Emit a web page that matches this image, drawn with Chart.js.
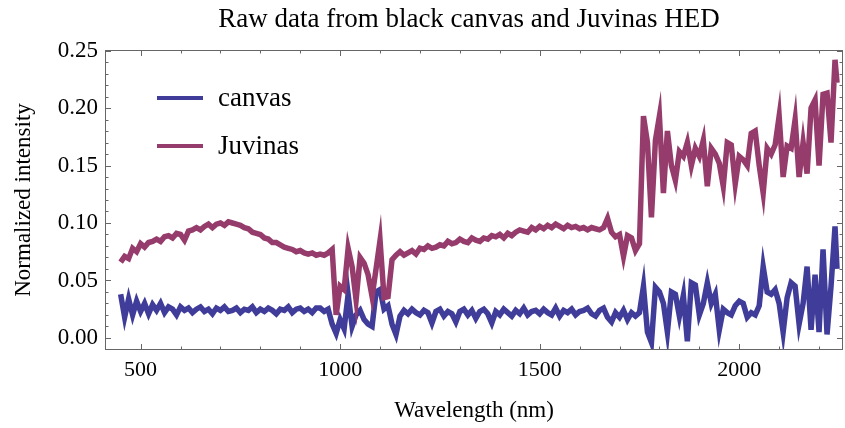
<!DOCTYPE html>
<html>
<head>
<meta charset="utf-8">
<script src="https://cdn.jsdelivr.net/npm/chart.js@4.4.1/dist/chart.umd.min.js"></script>
<style>
  html, body { margin: 0; padding: 0; background: #fff; }
</style>
</head>
<body>
<canvas id="chart" width="845" height="428"></canvas>
<script>
// lunghezze d'onda (nm)
const wavelengths = [
  450, 460, 470, 480, 490, 500, 510, 520, 530, 540,
  550, 560, 570, 580, 590, 600, 610, 620, 630, 640,
  650, 660, 670, 680, 690, 700, 710, 720, 730, 740,
  750, 760, 770, 780, 790, 800, 810, 820, 830, 840,
  850, 860, 870, 880, 890, 900, 910, 920, 930, 940,
  950, 960, 970, 980, 990, 1000, 1010, 1020, 1030, 1040,
  1050, 1060, 1070, 1080, 1090, 1100, 1110, 1120, 1130, 1140,
  1150, 1160, 1170, 1180, 1190, 1200, 1210, 1220, 1230, 1240,
  1250, 1260, 1270, 1280, 1290, 1300, 1310, 1320, 1330, 1340,
  1350, 1360, 1370, 1380, 1390, 1400, 1410, 1420, 1430, 1440,
  1450, 1460, 1470, 1480, 1490, 1500, 1510, 1520, 1530, 1540,
  1550, 1560, 1570, 1580, 1590, 1600, 1610, 1620, 1630, 1640,
  1650, 1660, 1670, 1680, 1690, 1700, 1710, 1720, 1730, 1740,
  1750, 1760, 1770, 1780, 1790, 1800, 1810, 1820, 1830, 1840,
  1850, 1860, 1870, 1880, 1890, 1900, 1910, 1920, 1930, 1940,
  1950, 1960, 1970, 1980, 1990, 2000, 2010, 2020, 2030, 2040,
  2050, 2060, 2070, 2080, 2090, 2100, 2110, 2120, 2130, 2140,
  2150, 2160, 2170, 2180, 2190, 2200, 2210, 2220, 2230, 2240,
  2245
];

// intensità normalizzata - tela nera
const canvasVals = [
  0.038, 0.018, 0.034, 0.020, 0.032, 0.023, 0.030, 0.021, 0.029, 0.024,
  0.030, 0.022, 0.027, 0.025, 0.020, 0.027, 0.024, 0.026, 0.022, 0.025,
  0.027, 0.023, 0.025, 0.021, 0.026, 0.024, 0.027, 0.023, 0.024, 0.026,
  0.022, 0.025, 0.024, 0.027, 0.022, 0.025, 0.023, 0.026, 0.024, 0.021,
  0.025, 0.024, 0.027, 0.022, 0.025, 0.026, 0.023, 0.025, 0.022, 0.026,
  0.026, 0.023, 0.025, 0.012, 0.004, 0.016, 0.008, 0.038, 0.010, 0.020,
  0.024, 0.016, 0.012, 0.010, 0.040, 0.042, 0.025, 0.028, 0.012, 0.003,
  0.019, 0.024, 0.021, 0.025, 0.022, 0.020, 0.024, 0.022, 0.013, 0.023,
  0.025, 0.019, 0.023, 0.021, 0.014, 0.023, 0.025, 0.020, 0.024, 0.017,
  0.023, 0.025, 0.021, 0.013, 0.023, 0.020, 0.025, 0.022, 0.019, 0.024,
  0.021, 0.026, 0.020, 0.023, 0.024, 0.021, 0.025, 0.022, 0.020, 0.026,
  0.019, 0.024, 0.022, 0.025, 0.020, 0.023, 0.024, 0.026, 0.021, 0.019,
  0.024, 0.026, 0.018, 0.014, 0.022, 0.018, 0.024, 0.016, 0.022, 0.019,
  0.022, 0.045, 0.005, -0.004, 0.044, 0.040, 0.030, 0.005, 0.040, 0.038,
  0.019, 0.037, -0.003, 0.048, 0.046, 0.020, 0.030, 0.048, 0.030, 0.038,
  0.007, 0.025, 0.022, 0.020, 0.028, 0.032, 0.030, 0.018, 0.022, 0.020,
  0.028, 0.062, 0.040, 0.038, 0.042, 0.030, 0.005, 0.035, 0.048, 0.045,
  0.012, 0.030, 0.062, 0.007, 0.055, 0.005, 0.077, 0.003, 0.045, 0.097,
  0.060
];

// intensità normalizzata - Juvinas
const juvinasVals = [
  0.066, 0.071, 0.069, 0.078, 0.075, 0.082, 0.079, 0.083, 0.084, 0.086,
  0.084, 0.088, 0.089, 0.087, 0.091, 0.090, 0.085, 0.093, 0.094, 0.096,
  0.094, 0.097, 0.099, 0.096, 0.099, 0.100, 0.098, 0.101, 0.100, 0.099,
  0.098, 0.096, 0.095, 0.092, 0.091, 0.090, 0.087, 0.086, 0.083, 0.083,
  0.081, 0.079, 0.078, 0.077, 0.075, 0.076, 0.074, 0.073, 0.074, 0.072,
  0.073, 0.072, 0.074, 0.077, 0.020, 0.045, 0.042, 0.078, 0.062, 0.033,
  0.070, 0.065, 0.055, 0.036, 0.060, 0.085, 0.035, 0.036, 0.068, 0.072,
  0.075, 0.072, 0.074, 0.076, 0.073, 0.078, 0.077, 0.080, 0.078, 0.079,
  0.081, 0.080, 0.084, 0.082, 0.083, 0.086, 0.084, 0.083, 0.087, 0.085,
  0.084, 0.087, 0.086, 0.089, 0.088, 0.090, 0.087, 0.091, 0.089, 0.092,
  0.094, 0.093, 0.092, 0.096, 0.094, 0.097, 0.095, 0.098, 0.096, 0.099,
  0.097, 0.095, 0.098, 0.096, 0.097, 0.095, 0.096, 0.094, 0.096, 0.095,
  0.094, 0.096, 0.104, 0.092, 0.088, 0.090, 0.071, 0.089, 0.087, 0.076,
  0.082, 0.193, 0.170, 0.105, 0.172, 0.193, 0.126, 0.180, 0.150, 0.137,
  0.162, 0.158, 0.170, 0.150, 0.165, 0.158, 0.172, 0.132, 0.165, 0.160,
  0.152, 0.132, 0.170, 0.168, 0.134, 0.158, 0.155, 0.150, 0.178, 0.180,
  0.150, 0.126, 0.165, 0.160, 0.168, 0.193, 0.140, 0.167, 0.165, 0.190,
  0.140, 0.170, 0.143, 0.200, 0.207, 0.150, 0.212, 0.213, 0.170, 0.242,
  0.222
];

// etichette degli assi
const xTicks = [500, 1000, 1500, 2000];
const yTicks = [0, 0.05, 0.10, 0.15, 0.20, 0.25];

const serif = '"Liberation Serif", "Times New Roman", serif';

const toPoints = vals => wavelengths.map((w, i) => ({ x: w, y: vals[i] }));

// Cornice stile Mathematica: bordo grigio con tacche verso l'interno su tutti i lati,
// titolo e legenda dentro il grafico
const cornice = {
  id: 'cornice',
  afterDatasetsDraw(chart) {
    const { ctx, chartArea: a, scales: { x, y } } = chart;
    ctx.save();
    ctx.strokeStyle = '#666';
    ctx.lineWidth = 1;
    ctx.strokeRect(a.left + 0.5, a.top + 0.5, a.right - a.left - 1, a.bottom - a.top - 1);

    ctx.beginPath();
    for (let v = 500; v <= 2200; v += 100) {
      const px = Math.round(x.getPixelForValue(v)) + 0.5;
      const len = v % 500 === 0 ? 6 : 3.5;
      ctx.moveTo(px, a.bottom); ctx.lineTo(px, a.bottom - len);
      ctx.moveTo(px, a.top); ctx.lineTo(px, a.top + len);
    }
    for (let k = -1; k <= 25; k++) {
      const py = Math.round(y.getPixelForValue(k / 100)) + 0.5;
      const len = k % 5 === 0 ? 6 : 3.5;
      ctx.moveTo(a.left, py); ctx.lineTo(a.left + len, py);
      ctx.moveTo(a.right, py); ctx.lineTo(a.right - len, py);
    }
    ctx.stroke();

    // titolo
    ctx.fillStyle = '#000';
    ctx.font = '27px ' + serif;
    ctx.textAlign = 'center';
    ctx.textBaseline = 'middle';
    ctx.fillText('Raw data from black canvas and Juvinas HED', (a.left + a.right) / 2 - 5, 20);

    // legenda
    ctx.textAlign = 'left';
    chart.data.datasets.forEach((ds, i) => {
      const ly = a.top + 48 + i * 48;
      ctx.strokeStyle = ds.borderColor;
      ctx.lineWidth = 4;
      ctx.beginPath();
      ctx.moveTo(a.left + 52, ly);
      ctx.lineTo(a.left + 98, ly);
      ctx.stroke();
      ctx.fillStyle = '#000';
      ctx.fillText(ds.label, a.left + 113, ly + 1);
    });
    ctx.restore();
  }
};

const data = {
  datasets: [{
    label: 'canvas',
    data: toPoints(canvasVals),
    borderColor: '#3f3d99',
    borderWidth: 5.5,
    pointRadius: 0,
    order: 1
  }, {
    label: 'Juvinas',
    data: toPoints(juvinasVals),
    borderColor: '#963c6c',
    borderWidth: 5.5,
    pointRadius: 0,
    order: 0
  }]
};

const config = {
  type: 'line',
  data,
  options: {
    responsive: false,
    animation: false,
    events: [],
    layout: { padding: { top: 50, right: 2, left: 0, bottom: 0 } },
    plugins: {
      legend: { display: false },
      tooltip: { enabled: false },
      title: { display: false }
    },
    scales: {
      x: {
        type: 'linear',
        min: 410.8,
        max: 2260,
        grid: { display: false, drawTicks: false },
        border: { display: false },
        afterBuildTicks: s => { s.ticks = xTicks.map(v => ({ value: v })); },
        afterFit: s => { s.height = 78; },
        ticks: {
          padding: 7,
          color: '#000',
          font: { family: serif, size: 22 },
          callback: v => String(v)
        },
        title: {
          display: true,
          text: 'Wavelength (nm)',
          color: '#000',
          font: { family: serif, size: 23 },
          padding: { top: 0, bottom: 3 }
        }
      },
      y: {
        type: 'linear',
        min: -0.0105,
        max: 0.2505,
        grid: { display: false, drawTicks: false },
        border: { display: false },
        afterBuildTicks: s => { s.ticks = yTicks.map(v => ({ value: v })); },
        afterFit: s => { s.width = 105; },
        ticks: {
          padding: 7,
          color: '#000',
          font: { family: serif, size: 23 },
          callback: v => v.toFixed(2)
        },
        title: {
          display: true,
          text: 'Normalized intensity',
          color: '#000',
          font: { family: serif, size: 23 },
          padding: { top: 10, bottom: 0 }
        }
      }
    }
  },
  plugins: [cornice]
};

const myChart = new Chart(document.getElementById('chart'), config);
</script>
</body>
</html>
